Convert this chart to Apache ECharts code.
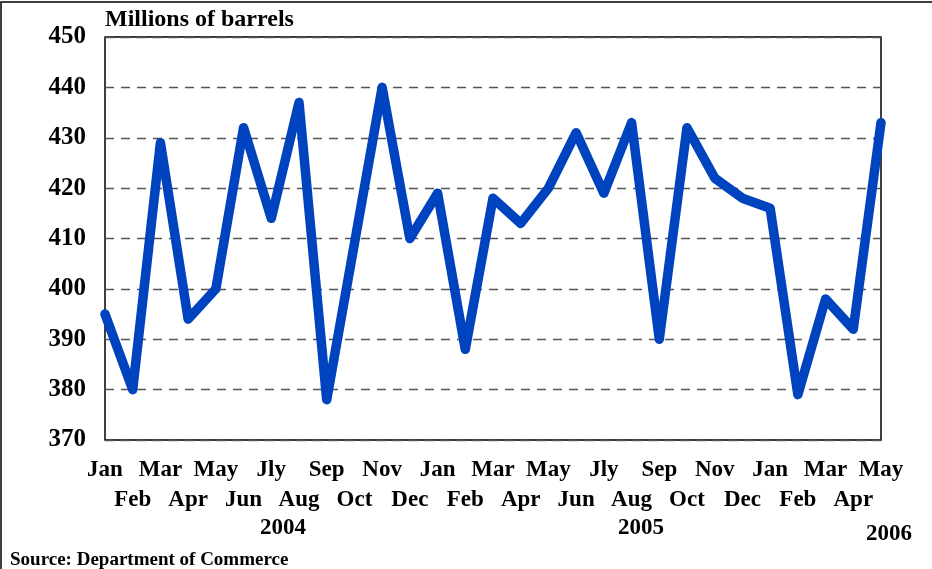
<!DOCTYPE html>
<html>
<head>
<meta charset="utf-8">
<script src="https://cdn.jsdelivr.net/npm/echarts@6/dist/echarts.min.js"></script>
<style>
  html, body { margin: 0; padding: 0; background: #fff; }
  #chart { width: 932px; height: 569px; }
</style>
</head>
<body>
<div id="chart"></div>
<script>
// months Jan 2004 .. May 2006
var months = ['Jan', 'Feb', 'Mar', 'Apr', 'May', 'Jun', 'Jly', 'Aug', 'Sep', 'Oct', 'Nov', 'Dec',
  'Jan', 'Feb', 'Mar', 'Apr', 'May', 'Jun', 'Jly', 'Aug', 'Sep', 'Oct', 'Nov', 'Dec',
  'Jan', 'Feb', 'Mar', 'Apr', 'May'];
var barrels = [395, 380, 429, 394, 400, 432, 414, 437, 378, 409, 440, 410,
  419, 388, 418, 413, 420, 431, 419, 433, 390, 432, 422, 418,
  416, 379, 398, 392, 433];
var yearLabels = ['2004', '2005', '2006'];

var font = 'Liberation Serif';
var myChart = echarts.init(document.getElementById('chart'));

var option = {
  backgroundColor: '#fff',
  animation: false,
  grid: {
    left: 105,
    right: 51,
    top: 37,
    bottom: 129,
    show: true,
    borderColor: '#000',
    borderWidth: 1.5,
  },
  xAxis: {
    type: 'category',
    data: months,
    boundaryGap: false,
    axisLine: { show: false },
    axisTick: { show: false },
    axisLabel: {
      interval: 0,
      margin: 15,
      fontFamily: font,
      fontWeight: 'bold',
      fontSize: 23,
      color: '#000',
      lineHeight: 30,
      formatter: function (v, i) {
        return i % 2 === 1 ? '\n' + v : v;
      },
    },
  },
  yAxis: {
    type: 'value',
    min: 370,
    max: 450,
    interval: 10,
    axisLine: { show: false },
    axisTick: { show: false },
    axisLabel: {
      margin: 19,
      fontFamily: font,
      fontWeight: 'bold',
      fontSize: 25,
      color: '#000',
    },
    splitLine: {
      lineStyle: { color: '#555', type: [9, 7], width: 1.3 },
    },
  },
  series: [
    {
      type: 'line',
      data: barrels,
      symbol: 'none',
      lineStyle: { color: '#0043BF', width: 9.5, cap: 'round', join: 'round' },
      z: 3,
    },
  ],
  graphic: [
    {
      type: 'text', left: 105, top: 8,
      style: { text: 'Millions of barrels', font: 'bold 24px "Liberation Serif"', fill: '#000' },
    },
    {
      type: 'text', x: 283, y: 528,
      style: { text: yearLabels[0], font: 'bold 23px "Liberation Serif"', fill: '#000', align: 'center', verticalAlign: 'middle' },
    },
    {
      type: 'text', x: 641, y: 528,
      style: { text: yearLabels[1], font: 'bold 23px "Liberation Serif"', fill: '#000', align: 'center', verticalAlign: 'middle' },
    },
    {
      type: 'text', x: 889, y: 534,
      style: { text: yearLabels[2], font: 'bold 23px "Liberation Serif"', fill: '#000', align: 'center', verticalAlign: 'middle' },
    },
    {
      type: 'text', left: 10, top: 551,
      style: { text: 'Source: Department of Commerce', font: 'bold 19px "Liberation Serif"', fill: '#000' },
    },
    {
      type: 'polyline',
      shape: { points: [[1, 569], [1, 2], [932, 2]] },
      style: { stroke: '#000', lineWidth: 1.5, fill: null },
    },
  ],
};

myChart.setOption(option);
</script>
</body>
</html>
